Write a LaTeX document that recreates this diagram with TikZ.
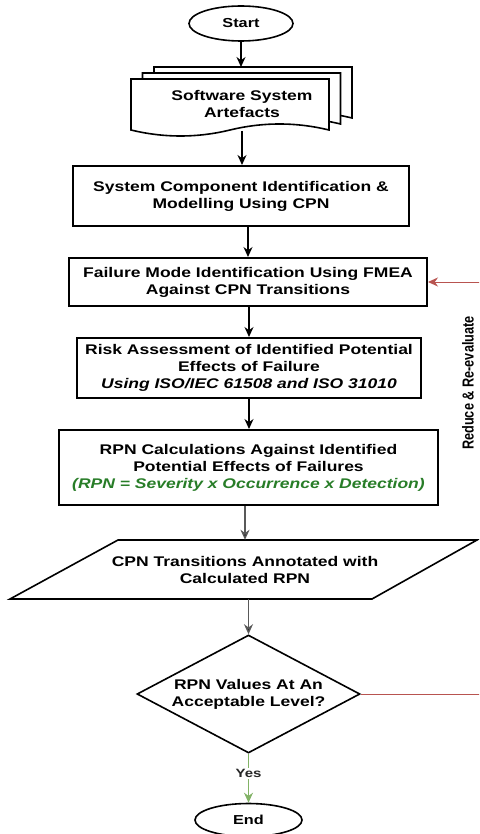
\documentclass[tikz,border=0pt]{standalone}
\usepackage{fontspec}
\setmainfont{Liberation Sans}[FakeStretch=1.25]
\newfontfamily\narrowfont{Liberation Sans}[FakeStretch=0.8]
\usetikzlibrary{shapes.geometric, arrows.meta}
\definecolor{redline}{RGB}{184,84,80}
\definecolor{greentext}{RGB}{40,125,40}
\definecolor{greenline}{RGB}{130,179,102}
\newcommand\mylbl{\fontsize{14}{17}\selectfont\bfseries}
\newcommand\mysmall{\fontsize{13}{15}\selectfont\bfseries}
\begin{document}
\begin{tikzpicture}[x=1pt,y=-1pt,
  box/.style={draw=black, line width=2pt, fill=white, inner sep=0pt, align=center, font=\mylbl},
  term/.style={draw=black, line width=1.6pt, ellipse, fill=white, inner sep=0pt, font=\mysmall},
  arr/.style={-{Stealth[length=10pt,width=9pt]}, line width=1.3pt},
  docshape/.style={draw=black, line width=1.6pt, fill=white},
  plain/.style={inner sep=0pt, align=center, font=\mylbl},
]
\useasboundingbox (0,0) rectangle (479,834);
\fill[white] (0,0) rectangle (479,834);
\clip (0,0) rectangle (479,834);

% Start
\node[term, minimum width=104pt, minimum height=35pt] (start) at (241,23.5) {Start};

% multi-document
\foreach \dx/\dy in {23/-12, 11.5/-6, 0/0}{
  \begin{scope}[shift={(\dx,\dy)}]
    \path[docshape] (131,79) -- (329,79) -- (329,130) .. controls (296,122) and (263,122) .. (230,130) .. controls (197,138) and (164,138) .. (131,130) -- cycle;
  \end{scope}
}
\node[plain, minimum width=198pt, minimum height=52pt] (doc) at (242,103.5) {Software System\\Artefacts};
\coordinate (doctop) at (241,67);
\coordinate (docbot) at (242,131);

% boxes
\node[box, minimum width=336pt, minimum height=60pt] (b1) at (241,196) {System Component Identification \&\\Modelling Using CPN};
\node[box, minimum width=358pt, minimum height=48pt] (b2) at (248,282) {Failure Mode Identification Using FMEA\\Against CPN Transitions};
\node[box, minimum width=344pt, minimum height=60pt] (b3) at (249,368) {Risk Assessment of Identified Potential\\Effects of Failure\\{\itshape Using ISO/IEC 61508 and ISO 31010}};
\node[box, minimum width=379pt, minimum height=75pt] (b4) at (248.5,467.5) {RPN Calculations Against Identified\\Potential Effects of Failures\\{\color{greentext}\itshape (RPN = Severity x Occurrence x Detection)}};

% parallelogram
\path[draw=black, line width=1.6pt, fill=white] (118,540) -- (477,540) -- (372,599) -- (10,599) -- cycle;
\node[plain, minimum width=250pt, minimum height=59pt] (para) at (245,569.5) {CPN Transitions Annotated with\\Calculated RPN};

% decision
\node[draw=black, diamond, aspect=1.9, minimum width=223pt, minimum height=118pt, inner sep=0pt, line width=1.6pt, fill=white, font=\mylbl, align=center] (dia) at (248.5,694) {RPN Values At An\\Acceptable Level?};

% End
\node[term, minimum width=107pt, minimum height=33pt] (end) at (248.5,820) {End};

% connectors
\draw[arr] (start.south) -- (doctop);
\draw[arr] (docbot) -- (docbot |- b1.north);
\draw[arr] (b1.south -| b2.north) -- (b2.north);
\draw[arr] (b2.south -| b3.north) -- (b3.north);
\draw[arr] (b3.south) -- (b3.south |- b4.north);
\draw[arr, draw=black!65, -{Stealth[length=10pt,width=9pt,fill=black!85]}] (b4.south -| para.north) -- (para.north);
\draw[arr, draw=black!65, -{Stealth[length=10pt,width=9pt,fill=black!85]}] (para.south -| dia.north) -- (dia.north);
\draw[arr, draw=greenline] (dia.south) -- node[pos=0.4, fill=white, inner sep=1.5pt, font={\fontsize{12}{14}\selectfont\bfseries}, text=black!85] (yes) {Yes} (end.north);

% loop back
\coordinate (rx) at (495,0);
\draw[draw=redline, line width=1pt, -{Stealth[length=10pt,width=9pt]}] (dia.east) -- (dia.east -| rx) |- (b2.east);
\node[font={\narrowfont\fontsize{15.9}{18}\selectfont\bfseries}, rotate=90, inner sep=0pt] (lab) at (468,383) {Reduce \& Re-evaluate};
\end{tikzpicture}
\end{document}
